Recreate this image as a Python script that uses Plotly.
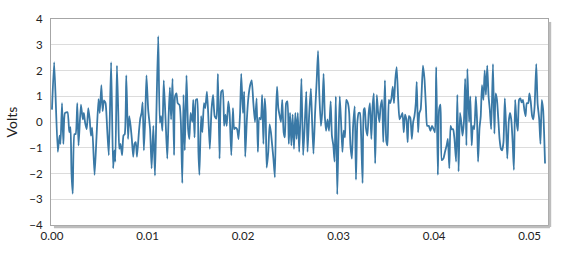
import plotly.graph_objects as go

# time in milliseconds
t_ms = [0, 0.23, 0.61, 0.79, 0.89, 1.05, 1.19, 1.36, 1.63, 1.81, 1.94, 2.04, 2.17, 2.35, 2.48, 2.65, 2.78,
        3.03, 3.23, 3.34, 3.47, 3.64, 3.80, 3.95, 4.08, 4.21, 4.46, 4.66, 4.87, 5.00, 5.17, 5.30, 5.44,
        5.61, 5.78, 5.95, 6.19, 6.40, 6.53, 6.63, 6.80, 6.94, 7.04, 7.17, 7.34, 7.48, 7.62, 7.78, 7.96,
        8.09, 8.23, 8.36, 8.50, 8.64, 8.77, 8.90, 9.11, 9.25, 9.38, 9.49, 9.62, 9.76, 9.89, 10.07, 10.27,
        10.43, 10.61, 10.78, 10.91, 11.12, 11.29, 11.42, 11.56, 11.70, 11.90, 12.07, 12.21, 12.34, 12.47,
        12.62, 12.78, 12.88, 13.03, 13.16, 13.36, 13.49, 13.64, 13.77, 13.90, 14.08, 14.25, 14.38, 14.51,
        14.69, 14.79, 14.92, 15.07, 15.20, 15.33, 15.43, 15.61, 15.74, 15.91, 16.04, 16.22, 16.35, 16.52,
        16.70, 16.86, 17.03, 17.21, 17.37, 17.54, 17.72, 17.88, 18.02, 18.16, 18.29, 18.46, 18.59, 18.77,
        18.94, 19.07, 19.21, 19.38, 19.53, 19.69, 19.81, 19.99, 20.12, 20.23, 20.40, 20.57, 20.74, 20.91,
        21.08, 21.25, 21.42, 21.55, 21.70, 21.86, 22.00, 22.13, 22.27, 22.37, 22.47, 22.64, 22.78, 22.92,
        23.05, 23.18, 23.33, 23.46, 23.56, 23.69, 23.84, 23.97, 24.10, 24.25, 24.38, 24.51, 24.65, 24.79,
        24.92, 25.06, 25.19, 25.33, 25.47, 25.60, 25.73, 25.88, 26.01, 26.11, 26.29, 26.45, 26.62, 26.75,
        26.93, 27.10, 27.23, 27.37, 27.54, 27.71, 27.85, 27.98, 28.15, 28.28, 28.43, 28.56, 28.69, 28.84,
        29.00, 29.17, 29.30, 29.45, 29.58, 29.71, 29.86, 29.99, 30.12, 30.26, 30.40, 30.53, 30.67, 30.80,
        30.98, 31.11, 31.24, 31.39, 31.52, 31.69, 31.82, 31.96, 32.10, 32.23, 32.36, 32.51, 32.64, 32.74,
        32.87, 33.02, 33.15, 33.28, 33.43, 33.56, 33.69, 33.83, 34.00, 34.14, 34.27, 34.40, 34.55, 34.68,
        34.85, 34.99, 35.12, 35.26, 35.39, 35.53, 35.67, 35.80, 35.93, 36.08, 36.24, 36.38, 36.55, 36.69,
        36.82, 36.95, 37.10, 37.23, 37.36, 37.51, 37.67, 37.81, 37.94, 38.08, 38.18, 38.32, 38.45, 38.59,
        38.69, 38.83, 38.99, 39.14, 39.27, 39.44, 39.61, 39.78, 39.95, 40.09, 40.22, 40.39, 40.52, 40.67,
        40.80, 40.97, 41.14, 41.31, 41.44, 41.59, 41.72, 41.85, 41.99, 42.13, 42.30, 42.43, 42.56, 42.71,
        42.84, 42.97, 43.12, 43.25, 43.38, 43.48, 43.66, 43.79, 43.93, 44.06, 44.20, 44.37, 44.50, 44.60,
        44.75, 44.88, 45.01, 45.16, 45.29, 45.42, 45.56, 45.70, 45.83, 45.97, 46.16, 46.31, 46.44, 46.58,
        46.72, 46.85, 46.99, 47.12, 47.26, 47.40, 47.53, 47.66, 47.81, 47.94, 48.07, 48.22, 48.35, 48.48,
        48.62, 48.76, 48.89, 49.03, 49.16, 49.30, 49.44, 49.57, 49.70, 49.85, 49.98, 50.11, 50.26, 50.39,
        50.52, 50.69, 50.83, 51.00, 51.13, 51.27, 51.41, 51.51, 51.61]

volts = [0.48, 2.32, -1.16, -0.53, -0.85, 0.73, -0.85, 0.35, 0.38, -0.4, -0.2, -1.92, -2.78, -0.47, -0.47, 0.73, -0.91,
         0.67, 0.1, 0.35, -0.03, -0.28, 0.54, 0.1, -0.53, -0.22, -2.05, -0.6, 0.89, 0.35, 1.43, 0.42, 0.84,
         0.73, -0.28, -1.29, 2.32, -1.8, -1.1, -1.54, 2.19, 0.35, -1.04, -0.85, -1.29, -0.53, -0.47, 1.81, -0.66,
         0.23, -0.15, -0.66, -1.35, -0.85, -0.78, -1.35, -0.34, 0.16, 0.35, 0.76, -1.1, 0.16, 1.81, 0.48, -0.28,
         -1.8, -0.15, -2.08, -0.03, 3.33, -0.03, 0.23, -0.34, 1.62, 0, -1.42, 0.23, 1.34, 0.1,
         1.68, -1.29, 0.99, 1.11, 0.73, 0.65, 0, -2.37, 1.05, -1.1, 1.81, -0.28, -0.66, 0.35,
         0, 0.86, -0.6, 0.86, 0.89, -1.16, -2.05, 0.23, -0.4, 0.73, 0.54, 1.18, 0.35, -1.04,
         0.48, 1.05, 0.23, 0.13, 1.87, -1.42, 1.18, 1.24, -0.15, 0.29, -0.15, 0.8, 0.35, -1.29,
         0.54, -0.28, -0.22, -0.28, -0.66, 0.35, 1.87, 0.35, 1.18, -1.35, 0.1, 0.99, 1.43, 1.62,
         0.73, 0, 0.92, -1.16, 0.16, 0.1, 1.05, -0.85, 0.92, 0.35, -1.77, -1.16, -0.09, -0.4,
         -0.91, -1.42, -2.15, 0.48, 1.37, 0.54, 0.23, 0, 0.86, -0.4, -0.6, 0.73, 0.8, -0.85,
         0.35, -0.91, 0.29, -1.04, 0.35, -0.66, 0.35, -1.16, 0.23, 1.68, -1.29, -0.15, 1.18, -1.16,
         0.35, 1.3, 0, -1.23, 0.35, 1.62, 2.76, 1.11, -0.15, 0.35, 1.87, 0.23, -0.34, 0.1,
         -0.34, 0.8, -0.53, -0.91, -1.54, 0.99, -2.81, -0.66, 0.99, 0, -1.16, -0.34, -0.6, 0.86,
         0.73, 0.35, -0.91, -1.42, -0.15, 0.61, -2.24, -0.03, 0.35, 0.35, -0.53, -2.37, 0.48, 0.54,
         -0.25, -0.53, 0.35, 0.73, -0.66, 0.61, 1.11, -1.61, 1.05, 0.35, 0, 0.61, 0.86, -0.78,
         1.62, -0.72, -0.91, 0.86, 0.73, 0.92, 1.37, 0.73, 1.62, 2.13, 0.86, 0.1, 0.23, 0.35,
         -0.4, 0.29, 0.1, -0.78, 0.23, 0.16, -0.66, 0, 0.23, 0.73, 1.56, -0.4, 0.35, 0.48,
         1.11, 2.19, 1.68, 0.61, -0.15, -0.15, -0.34, -0.15, -0.28, -0.4, 2.13, -2.05, 0.48, 0.67,
         -1.48, -1.42, -1.16, -0.91, -0.66, -1.8, -0.15, -0.28, -0.28, -0.66, -1.54, 1.05, -1.92, 0.35,
         0, -0.53, 0, 1.68, -0.91, 2.06, 0, 0.99, -0.91, -0.15, -0.28, 0.99, 0, -1.54,
         -0.25, 0.23, 1.43, 0.86, 2.0, 1.05, 2.19, 0.99, 0.48, -0.28, 2.25, -0.45, 1.11, 0.86,
         0.1, -0.66, -1.04, -1.1, -0.78, 0.92, -0.15, -1.42, 0, 0.35, 0.1, -0.78, -1.86, 0.86,
         0.04, -0.34, 0.86, 0.92, 0.76, 0.86, 0.48, 0.23, 0.73, 0.73, 1.11, 0.8, 0.23, 0.1,
         0.61, 2.25, 0.73, 0.1, -0.85, 0.86, 0.48, -0.4, -1.61]

x_ticks = [0.00, 0.01, 0.02, 0.03, 0.04, 0.05]
x_tick_labels = ["0.00", "0.01", "0.02", "0.03", "0.04", "0.05"]
y_ticks = [-4, -3, -2, -1, 0, 1, 2, 3, 4]

t = [v / 1000 for v in t_ms]

fig = go.Figure()
fig.add_trace(go.Scatter(x=t, y=volts, mode="lines",
                         line=dict(color="#3A79A6", width=1.8, shape="spline", smoothing=0.5),
                         hoverinfo="skip", showlegend=False))

font_family = "Lato, Open Sans, Liberation Sans, sans-serif"
fig.update_layout(
    width=561, height=254,
    margin=dict(l=39, r=12, t=15, b=29),
    paper_bgcolor="white", plot_bgcolor="white",
    font=dict(family=font_family, size=11, color="#333333"),
    xaxis=dict(range=[-0.000102, 0.05192], tickvals=x_ticks, ticktext=x_tick_labels,
               showgrid=False, zeroline=False, showline=True, linecolor="#a6a6a6",
               linewidth=1, mirror=True, ticks="", tickfont=dict(size=11.5, color="#222")),
    yaxis=dict(range=[-4, 4], tickvals=y_ticks, showgrid=True, gridcolor="#dcdcdc",
               gridwidth=1, zeroline=False, showline=True, linecolor="#a6a6a6",
               linewidth=1, mirror=True, ticks="", ticklabelstandoff=5,
               tickfont=dict(size=11.5, color="#222"),
               title=dict(text="Volts", font=dict(size=14, color="#222"), standoff=8)),
    shapes=[
        dict(type="line", xref="paper", yref="paper", x0=1 + 2 / 510, x1=1 + 2 / 510,
             y0=-2 / 210, y1=1 - 3 / 210, line=dict(color="#bdbdbd", width=2.5)),
        dict(type="line", xref="paper", yref="paper", x0=3 / 510, x1=1 + 2 / 510,
             y0=-2 / 210, y1=-2 / 210, line=dict(color="#bdbdbd", width=2.5)),
    ],
)

fig.write_html("out.html")
